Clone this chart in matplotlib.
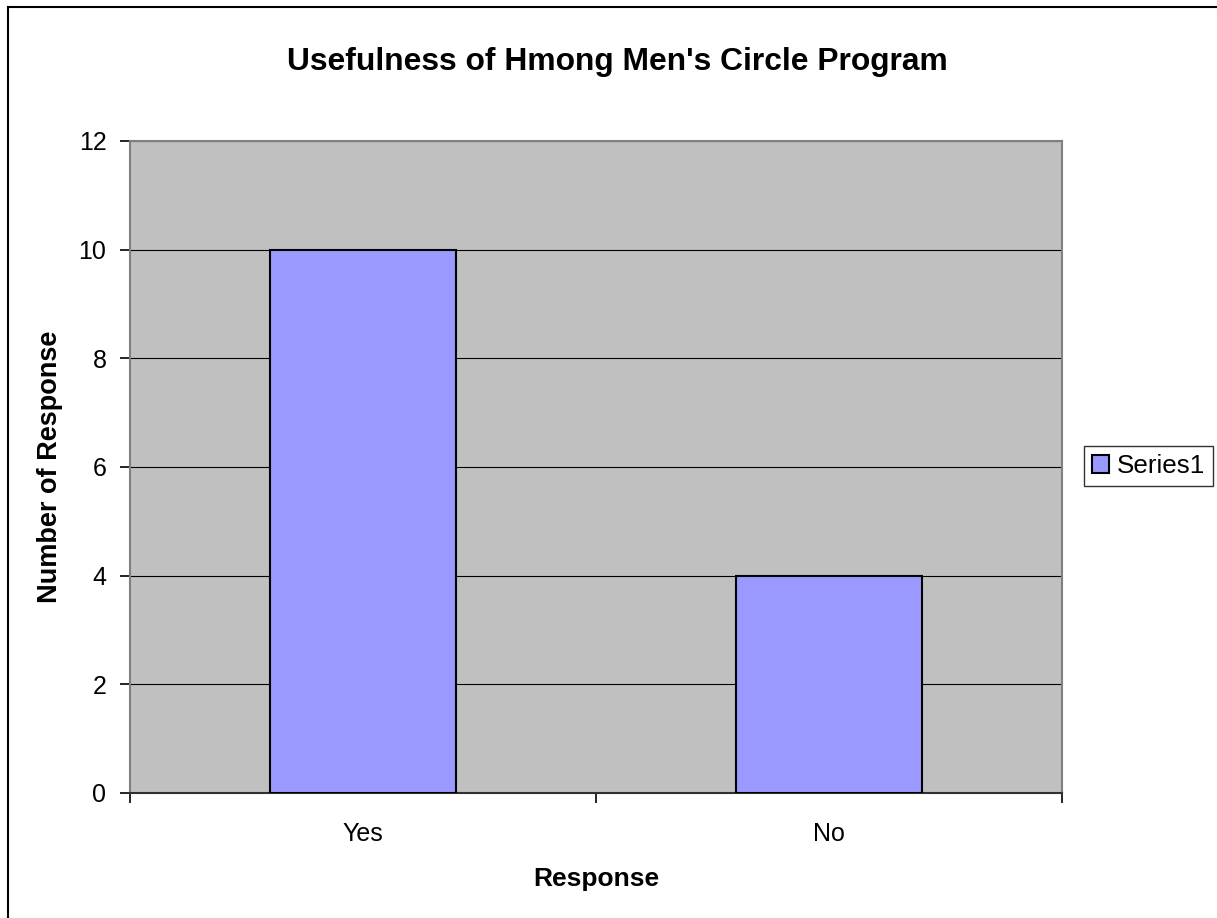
import matplotlib.pyplot as plt
from matplotlib.lines import Line2D

plt.rcParams['font.family'] = ['Liberation Sans', 'DejaVu Sans']

categories = ["Yes", "No"]
values = [10, 4]
series_name = "Series1"

W, H = 1217, 918
fig = plt.figure(figsize=(W / 100, H / 100), dpi=100)
ax = fig.add_axes([130 / W, 1 - 793 / H, 932 / W, 652 / H])
ax.set_facecolor("#C0C0C0")

x = list(range(len(categories)))
ax.bar(x, values, width=0.4, color="#9999FF", edgecolor="black", linewidth=1.5,
       label=series_name, zorder=3)

ax.set_xlim(-0.5, len(categories) - 0.5)
ax.set_ylim(0, 12)
ax.set_yticks(range(0, 13, 2))
ax.yaxis.grid(True, color="black", linewidth=0.8, zorder=1)
ax.set_axisbelow(True)

# category ticks sit between groups, labels at the centres
ax.set_xticks([-0.5, 0.5, 1.5])
ax.set_xticklabels([])
ax.set_xticks(x, minor=True)
ax.set_xticklabels(categories, minor=True)
ax.tick_params(axis="x", which="minor", length=0, pad=21, labelsize=18)
ax.tick_params(axis="x", which="major", length=7, width=1.2, direction="out")
ax.tick_params(axis="y", length=7, width=1.2, direction="out", labelsize=18, pad=10)

for side in ["top", "right", "left"]:
    ax.spines[side].set_color("#808080")
    ax.spines[side].set_linewidth(1.5)
ax.spines["bottom"].set_color("#303030")
ax.spines["bottom"].set_linewidth(1.5)

ax.set_xlabel("Response", fontsize=19, fontweight="bold", labelpad=15)
ax.set_ylabel("Number of Response", fontsize=19.5, fontweight="bold", labelpad=11)
fig.text(617 / W, 1 - 70 / H, "Usefulness of Hmong Men's Circle Program",
         ha="center", va="baseline", fontsize=22.9, fontweight="bold")

leg = fig.legend(loc="center left", bbox_to_anchor=(1084 / W, 1 - 466 / H),
                 fontsize=18.7, frameon=True, fancybox=False, edgecolor="black",
                 handlelength=0.65, handleheight=0.65, handletextpad=0.3,
                 borderpad=0.3, borderaxespad=0)
leg.get_frame().set_linewidth(1)

# chart-area border: only the left and top edges fall inside the image
bx, by = 8 / W, 1 - 7 / H
fig.add_artist(Line2D([bx, bx], [0, by], transform=fig.transFigure,
                      color="black", linewidth=1.5))
fig.add_artist(Line2D([bx, 1], [by, by], transform=fig.transFigure,
                      color="black", linewidth=1.5))

fig.savefig("out.png", dpi=100)
